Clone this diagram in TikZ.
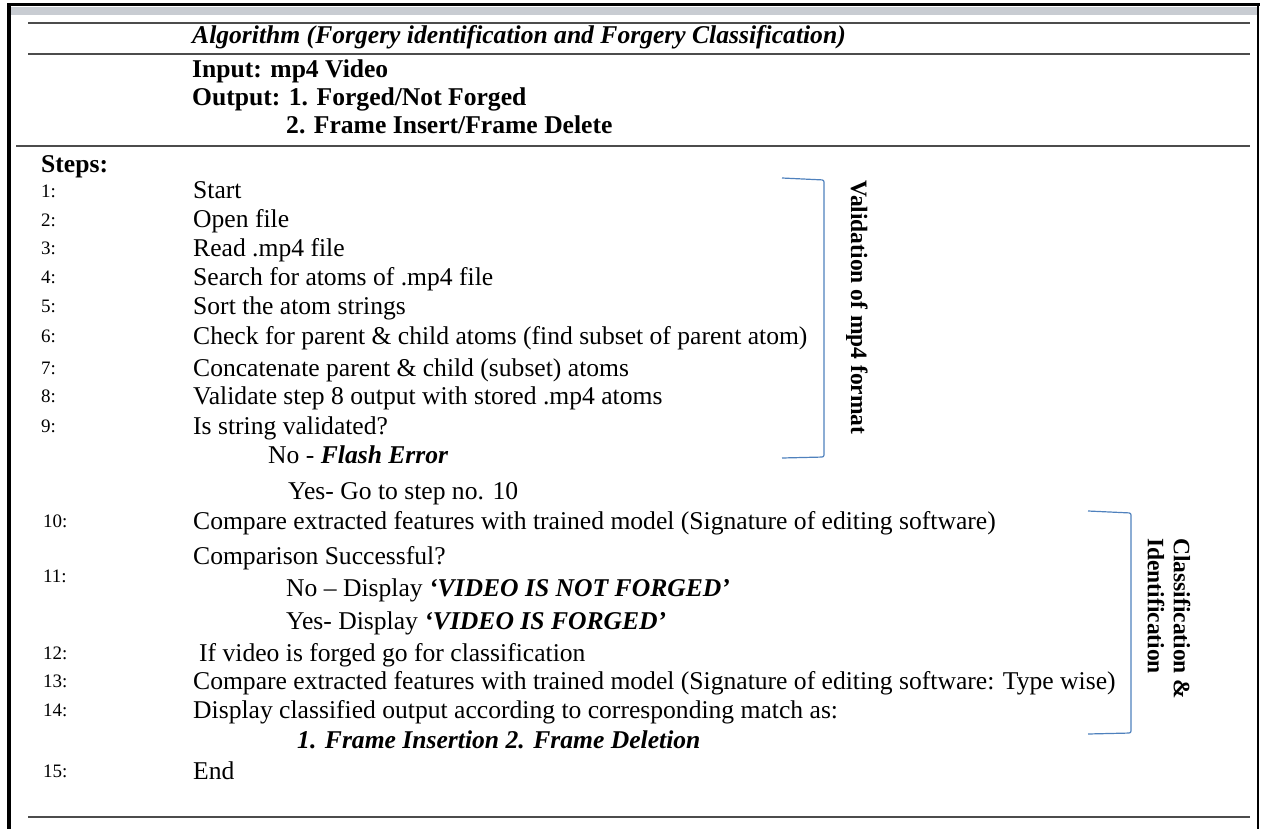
\documentclass[tikz,border=0pt]{standalone}
\usepackage{fontspec}
\setmainfont{Liberation Serif}
\definecolor{brkblue}{RGB}{79,129,189}
\definecolor{band}{RGB}{200,204,210}
\tikzset{
  txt/.style={anchor=west,inner sep=0pt,text height=17pt,text depth=5pt,font=\fontsize{25.6}{29}\selectfont},
  hd/.style={txt,font=\fontsize{25.6}{29}\selectfont\bfseries},
  num/.style={anchor=west,inner sep=0pt,text height=13pt,text depth=4pt,font=\fontsize{19}{22}\selectfont},
  rule/.style={draw=black!70,line width=2pt},
  brk/.style={draw=brkblue,line width=1.2pt,rounded corners=2pt},
  side/.style={anchor=west,inner sep=0pt,rotate=-90,align=left,font=\fontsize{23.5}{26}\selectfont\bfseries}
}

\begin{document}
\begin{tikzpicture}[x=1pt,y=-1pt]
\useasboundingbox (0,0) rectangle (1261,829);
\fill[band](11,7) rectangle (1257,15);
\draw[line width=3pt](7,5)--(1260,5);
\draw[line width=4pt](9,4)--(9,829);
\draw[line width=2.5pt](1258,4)--(1258,829);
\draw[rule](28,23)--(1250,23);
\draw[rule](28,54)--(1250,54);
\draw[rule](16,146)--(1250,146);
\draw[rule](28,817)--(1250,817);
\node[txt,font=\fontsize{25.6}{29}\selectfont\bfseries\itshape](title) at (192,38) {Algorithm (Forgery identification and Forgery Classification)};
\node[hd](inp) at (192,72) {Input: mp4 Video};
\node[hd](outa) at (192,100) {Output: 1. Forged/Not Forged};
\node[hd](outb) at (286,128) {2. Frame Insert/Frame Delete};
\node[hd](steps) at (41,167) {Steps:};
\node[num](n1) at (41,193) {1:};
\node[num](n2) at (41,222) {2:};
\node[num](n3) at (41,250) {3:};
\node[num](n4) at (41,279) {4:};
\node[num](n5) at (41,308) {5:};
\node[num](n6) at (41,338) {6:};
\node[num](n7) at (41,370) {7:};
\node[num](n8) at (41,398) {8:};
\node[num](n9) at (41,428) {9:};
\node[num](n10) at (43,523) {10:};
\node[num](n11) at (43,578) {11:};
\node[num](n12) at (43,655) {12:};
\node[num](n13) at (43,683) {13:};
\node[num](n14) at (43,712) {14:};
\node[num](n15) at (43,773) {15:};
\node[txt](s1) at (193,193) {Start};
\node[txt](s2) at (193,222) {Open file};
\node[txt](s3) at (193,250) {Read .mp4 file};
\node[txt](s4) at (193,279) {Search for atoms of .mp4 file};
\node[txt](s5) at (193,308) {Sort the atom strings};
\node[txt](s6) at (193,338) {Check for parent \& child atoms (find subset of parent atom)};
\node[txt](s7) at (193,370) {Concatenate parent \& child (subset) atoms};
\node[txt](s8) at (193,398) {Validate step 8 output with stored .mp4 atoms};
\node[txt](s9) at (193,428) {Is string validated?};
\node[txt](no9) at (268,457) {No - \textbf{\textit{Flash Error}}};
\node[txt](yes9) at (288,493) {Yes- Go to step no. 10};
\node[txt](s10) at (193,523) {Compare extracted features with trained model (Signature of editing software)};
\node[txt](s11) at (193,558) {Comparison Successful?};
\node[txt](no11) at (286,590) {No – Display \textbf{\textit{‘VIDEO IS NOT FORGED’}}};
\node[txt](yes11) at (286,623) {Yes- Display \textbf{\textit{‘VIDEO IS FORGED’}}};
\node[txt](s12) at (199,655) {If video is forged go for classification};
\node[txt](s13) at (193,683) {Compare extracted features with trained model (Signature of editing software: Type wise)};
\node[txt](s14) at (193,712) {Display classified output according to corresponding match as:};
\node[txt](s14b) at (297,742) {\textbf{\textit{1. Frame Insertion 2. Frame Deletion}}};
\node[txt](s15) at (193,773) {End};
\draw[brk](782,178)--(824,180)--(824,457)--(782,458);
\node[side](valid) at (857,180) {Validation of mp4 format};
\draw[brk](1088,511)--(1131,513)--(1131,733)--(1088,734);
\node[side](classid) at (1169,538) {Classification \&\\Identification};
\end{tikzpicture}
\end{document}
